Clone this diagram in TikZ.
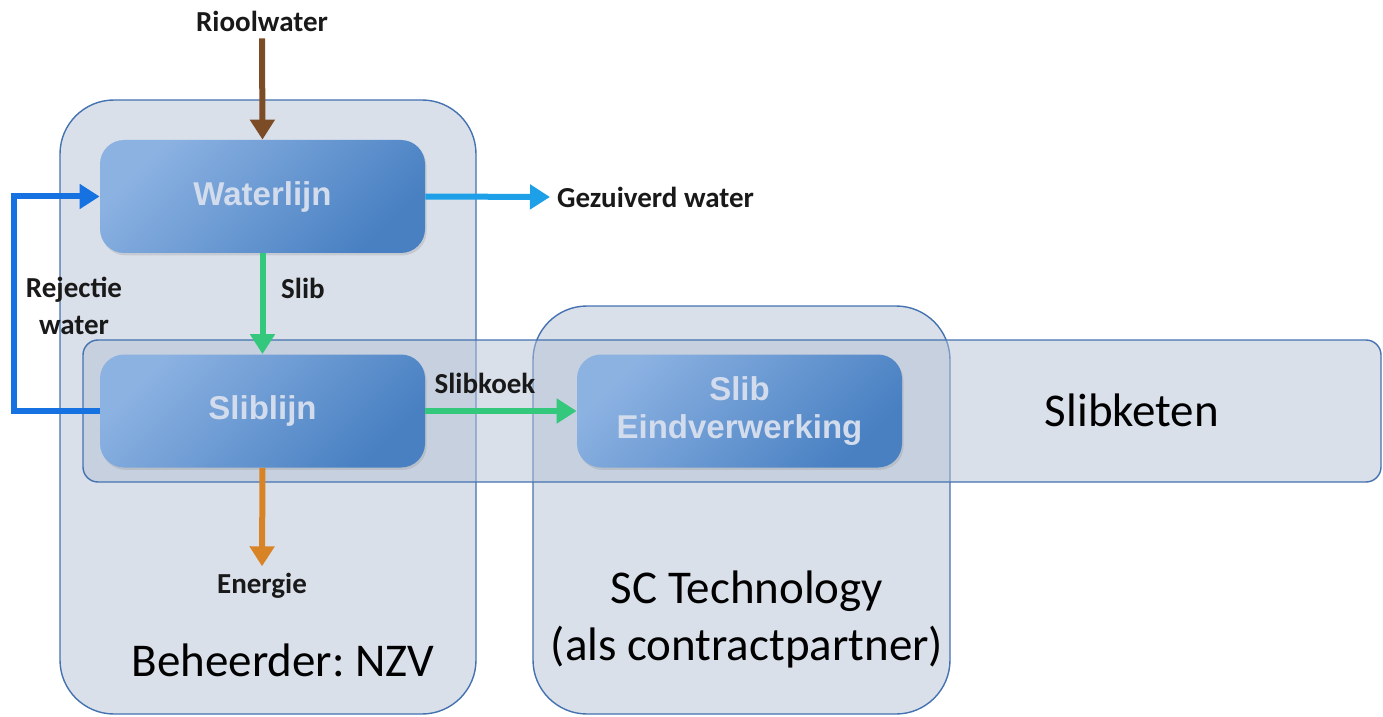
\documentclass[tikz,border=0pt]{standalone}
\usepackage{fontspec}
\setmainfont{Carlito}
\newfontfamily\arialb{Liberation Sans}
\usetikzlibrary{arrows.meta,shadows}
\definecolor{outerfill}{RGB}{179,193,213}
\definecolor{edge}{RGB}{68,114,176}
\definecolor{inA}{RGB}{140,178,226}
\definecolor{inB}{RGB}{72,128,194}
\definecolor{intext}{RGB}{210,220,236}
\definecolor{cbrown}{RGB}{124,76,38}
\definecolor{clblue}{RGB}{30,160,232}
\definecolor{cblue}{RGB}{22,114,224}
\definecolor{cgreen}{RGB}{52,200,124}
\definecolor{corange}{RGB}{216,132,38}
\frenchspacing
\begin{document}
\begin{tikzpicture}[x=0.5pt,y=-0.5pt,
  outer/.style={draw=edge, line width=0.7pt, fill=outerfill, fill opacity=0.5, draw opacity=1},
  inner/.style={rounded corners=12pt, minimum width=162.5pt, minimum height=56.5pt,
    top color=inA, bottom color=inB, shading angle=45, text=intext,
    font=\arialb\bfseries\fontsize{16.5}{19}\selectfont, align=center,
    drop shadow={shadow xshift=0.8pt, shadow yshift=-1.2pt, opacity=0.22}},
  flow/.style={line width=3pt, -{Triangle[width=12pt,length=10pt]}},
  lbl/.style={font=\bfseries\fontsize{14.5}{18.5}\selectfont, text=black!90, align=center},
  big/.style={font=\fontsize{23.5}{28.5}\selectfont, text=black, align=center}]
\useasboundingbox (0,0) rectangle (1383,717);
% outer groups
\node[outer, rounded corners=27pt, minimum width=208pt, minimum height=307pt] (nzv) at (268,407) {};
\node[outer, rounded corners=27pt, minimum width=208.5pt, minimum height=204pt] (sc) at (741.5,510) {};
\node[outer, rounded corners=7.5pt, minimum width=649pt, minimum height=71pt] (keten) at (732,411) {};
% inner boxes
\node[inner] (wl) at (262.5,196.5) {Waterlijn};
\node[inner] (sl) at (262.5,411) {Sliblijn};
\node[inner] (ev) at (739.5,411) {Slib\\Eindverwerking};
% labels
\node[lbl] (riool) at (262,21) {Rioolwater};
\node[lbl, anchor=west] (gez) at (550,197) {Gezuiverd water};
\node[lbl] (sliblbl) at (303,288) {Slib};
\node[lbl] (koek) at (485,383) {Slibkoek};
\node[lbl] (en) at (262,586) {Energie};
\node[lbl] (rej) at (74,306) {Rejectie\\water};
\coordinate (rjx) at (14,0);
% flows
\draw[flow, cbrown] (riool.south) -- (wl.north);
\draw[flow, clblue] (wl.east) -- (gez.west);
\draw[flow, cgreen] (wl.south) -- (sl.north);
\draw[flow, cgreen] (sl.east) -- (ev.west);
\draw[flow, corange] (sl.south) -- (en.north);
\draw[flow, cblue] (sl.west) -- (sl.west -| rjx) |- (wl.west);
% big texts
\node[big] (tketen) at (1132,410) {Slibketen};
\node[big] (tsc) at (747,619) {SC Technology\\(als contractpartner)};
\node[big] (tnzv) at (283,660) {Beheerder: NZV};
\end{tikzpicture}
\end{document}
